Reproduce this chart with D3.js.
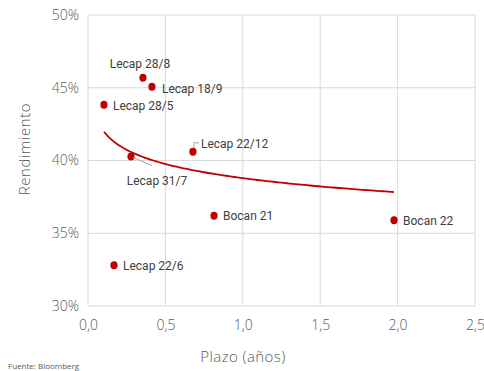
<!DOCTYPE html>
<html>
<head>
<meta charset="utf-8">
<script src="https://cdn.jsdelivr.net/npm/d3@7"></script>
<style>
  html, body { margin: 0; padding: 0; background: #fff; }
  svg { display: block; }
</style>
</head>
<body>
<svg id="chart" width="484" height="371"></svg>
<script>
// Instrumentos: plazo (años) y rendimiento (%)
const names   = ["Lecap 28/8", "Lecap 18/9", "Lecap 28/5", "Lecap 31/7", "Lecap 22/12", "Bocan 21", "Bocan 22", "Lecap 22/6"];
const plazo   = [0.355, 0.413, 0.103, 0.278, 0.678, 0.814, 1.977, 0.168];
const rend    = [45.68, 45.07, 43.84, 40.27, 40.60, 36.20, 35.90, 32.80];
const xTicks  = [0, 0.5, 1, 1.5, 2, 2.5];
const yTicks  = [30, 35, 40, 45, 50];

const svg = d3.select("#chart");
const m = { left: 88, right: 9, top: 15, bottom: 65 };
const W = 484, H = 371;

const x = d3.scaleLinear().domain([0, 2.5]).range([m.left, W - m.right]);
const y = d3.scaleLinear().domain([30, 50]).range([H - m.bottom, m.top]);

const grid = "#d9d9d9";
const textCol = "#595959";
const red = "#c00000";

// Grid
svg.append("g").selectAll("line").data(yTicks).join("line")
  .attr("x1", x(0)).attr("x2", x(2.5))
  .attr("y1", d => y(d)).attr("y2", d => y(d))
  .attr("stroke", grid).attr("stroke-width", 1);
svg.append("g").selectAll("line").data(xTicks).join("line")
  .attr("y1", y(30)).attr("y2", y(50))
  .attr("x1", d => x(d)).attr("x2", d => x(d))
  .attr("stroke", grid).attr("stroke-width", 1);

// Axes (labels only)
const fmtX = d => d3.format(".1f")(d).replace(".", ",");
const xAxis = svg.append("g").attr("transform", `translate(0,${y(30)})`)
  .call(d3.axisBottom(x).tickValues(xTicks).tickFormat(fmtX).tickSize(0).tickPadding(14));
const yAxis = svg.append("g").attr("transform", `translate(${x(0)},0)`)
  .call(d3.axisLeft(y).tickValues(yTicks).tickFormat(d => d + "%").tickSize(0).tickPadding(9));
[xAxis, yAxis].forEach(a => {
  a.select(".domain").remove();
  a.selectAll("text").attr("fill", textCol)
    .style("font-family", "'Open Sans', sans-serif").style("font-size", "14px").style("font-weight", 300);
});

// Logarithmic trend line fitted to the points
const lx = plazo.map(Math.log);
const mx = d3.mean(lx), my = d3.mean(rend);
const b = d3.sum(lx, (v, i) => (v - mx) * (rend[i] - my)) / d3.sum(lx, v => (v - mx) * (v - mx));
const a = my - b * mx;
const [xmin, xmax] = d3.extent(plazo);
const trend = d3.range(0, 101).map(i => {
  const t = xmin + (xmax - xmin) * i / 100;
  return [t, a + b * Math.log(t)];
});
svg.append("path").datum(trend)
  .attr("fill", "none").attr("stroke", red).attr("stroke-width", 1.8)
  .attr("d", d3.line().x(d => x(d[0])).y(d => y(d[1])));

// Points
const pts = names.map((n, i) => ({ n, px: plazo[i], py: rend[i] }));
svg.append("g").selectAll("ellipse").data(pts).join("ellipse")
  .attr("cx", d => x(d.px)).attr("cy", d => y(d.py))
  .attr("rx", 3.6).attr("ry", 4).attr("fill", red);

// Label placement (offsets from each point)
const lab = {
  "Lecap 28/8":  { dx: -3,  dy: -14, anchor: "middle" },
  "Lecap 18/9":  { dx: 10,  dy: 2,   anchor: "start" },
  "Lecap 28/5":  { dx: 9,   dy: 1,   anchor: "start" },
  "Lecap 31/7":  { dx: 26,  dy: 24,  anchor: "middle" },
  "Lecap 22/12": { dx: 8,   dy: -8,  anchor: "start" },
  "Bocan 21":    { dx: 9,   dy: 0,   anchor: "start" },
  "Bocan 22":    { dx: 9,   dy: 1,   anchor: "start" },
  "Lecap 22/6":  { dx: 9,   dy: 1,   anchor: "start" }
};

// Leader lines
const p3 = pts[3], p4 = pts[4];
svg.append("line")
  .attr("x1", x(p3.px) + 2).attr("y1", y(p3.py) + 1)
  .attr("x2", x(p3.px) + 21).attr("y2", y(p3.py) + 9)
  .attr("stroke", "#a6a6a6").attr("stroke-width", 1);
svg.append("path")
  .attr("d", `M${x(p4.px) + 1},${y(p4.py) - 4} L${x(p4.px) + 1},${y(p4.py) - 9} L${x(p4.px) + 6},${y(p4.py) - 9}`)
  .attr("fill", "none").attr("stroke", "#a6a6a6").attr("stroke-width", 1);

svg.append("g").selectAll("text").data(pts).join("text")
  .attr("x", d => x(d.px) + lab[d.n].dx)
  .attr("y", d => y(d.py) + lab[d.n].dy)
  .attr("dy", "0.35em")
  .attr("text-anchor", d => lab[d.n].anchor)
  .attr("fill", "#404040")
  .style("font-family", "'Liberation Sans Narrow', 'Roboto', sans-serif")
  .style("font-size", "12px")
  .text(d => d.n);

// Axis titles
svg.append("text")
  .attr("transform", `translate(25,149) rotate(-90)`)
  .attr("text-anchor", "middle").attr("dy", "0.35em").attr("fill", textCol)
  .style("font-family", "'Open Sans', sans-serif").style("font-size", "15px").style("font-weight", 300)
  .style("letter-spacing", "0.6px")
  .text("Rendimiento");
svg.append("text")
  .attr("x", 243).attr("y", 357)
  .attr("text-anchor", "middle").attr("dy", "0.35em").attr("fill", textCol)
  .style("font-family", "'Open Sans', sans-serif").style("font-size", "15px").style("font-weight", 300)
  .style("letter-spacing", "0.4px")
  .text("Plazo (años)");

// Source
svg.append("text")
  .attr("x", 8).attr("y", 369)
  .attr("fill", textCol)
  .style("font-family", "'Open Sans', sans-serif").style("font-size", "8px")
  .text("Fuente: Bloomberg");
</script>
</body>
</html>
